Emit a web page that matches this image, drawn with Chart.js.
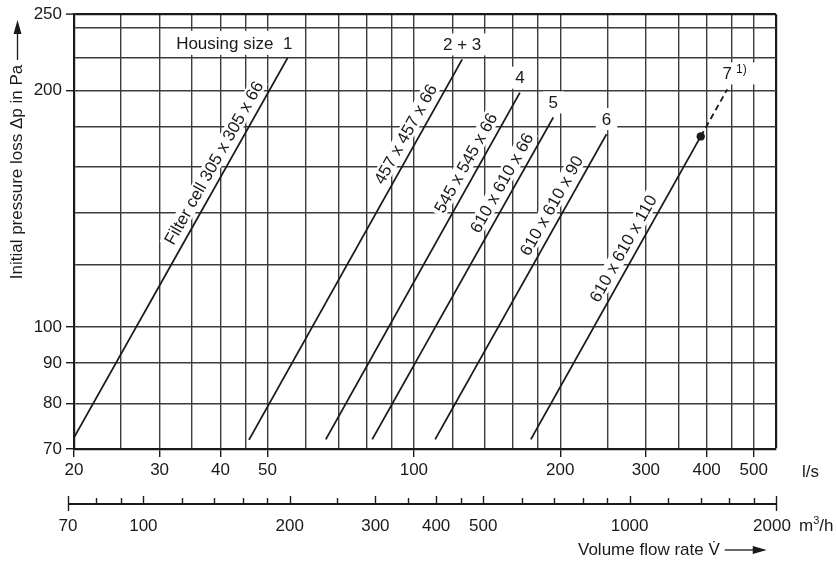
<!DOCTYPE html>
<html><head><meta charset="utf-8">
<script src="https://cdn.jsdelivr.net/npm/chart.js@4/dist/chart.umd.min.js"></script>
<style>html,body{margin:0;padding:0;background:#fff}canvas{display:block}</style>
</head><body>
<canvas id="c" width="836" height="561"></canvas>
<script>
const FONT = "'Liberation Sans', Arial, Helvetica, sans-serif";
const FS = 17;
// Filter cell types (rotated labels along lines)
const seriesLabels = ['Filter cell 305 x 305 x 66', '457 x 457 x 66', '545 x 545 x 66', '610 x 610 x 66', '610 x 610 x 90', '610 x 610 x 110'];
const housingSizes = ['Housing size  1', '2 + 3', '4', '5', '6', '7'];
// line endpoints: volume flow in l/s, pressure loss in Pa
const flowStart = [20, 45.8, 65.9, 82.1, 110.6, 174];
const pressStart = [72.4, 71.9, 72, 72, 72, 72];
const flowEnd = [55, 125.7, 165.2, 193.5, 249, 389];
const pressEnd = [220, 219, 198.7, 184.8, 176, 174.8];
// dashed extension of housing size 7
const extFlow = [389, 441];
const extPress = [174.8, 200.6];
// pressure at which each rotated label is centred
const labelPress = [158.8, 172.8, 158.8, 149.8, 140.1, 123.6];
// axes
const yGrid = [70, 80, 90, 100, 120, 140, 160, 180, 200, 220, 240, 250];
const yLabels = [70, 80, 90, 100, 200, 250];
const xGrid = [20, 25, 30, 35, 40, 45, 50, 60, 70, 80, 90, 100, 120, 140, 160, 180, 200, 250, 300, 350, 400, 450, 500];
const xLabels = [20, 30, 40, 50, 100, 200, 300, 400, 500];
const m3hMajor = [70, 100, 200, 300, 400, 500, 1000, 2000];
const m3hMinor = [80, 90, 120, 140, 160, 180, 250, 350, 450, 600, 700, 800, 900, 1200, 1400, 1600, 1800];
const M3H_PER_LS = 3.6;
const xMax = 2000 / M3H_PER_LS;

const INK = '#1a1a1a';
const GRID = '#3c3c3c';

const datasets = flowStart.map((f, i) => ({
  data: [{x: f, y: pressStart[i]}, {x: flowEnd[i], y: pressEnd[i]}],
  showLine: true, borderColor: INK, borderWidth: 1.8, fill: false,
  pointRadius: i === 5 ? [0, 4.2] : 0, pointHoverRadius: 0,
  pointBackgroundColor: INK, pointBorderWidth: 0
}));
datasets.push({
  data: extFlow.map((f, i) => ({x: f, y: extPress[i]})),
  showLine: true, borderColor: INK, borderWidth: 1.8, borderDash: [6, 4],
  pointRadius: 0, fill: false
});

function isMax(v, m) { return Math.abs(v - m) < 1e-6; }

const annot = {
  id: 'annot',
  beforeDatasetsDraw(chart) {
    const ctx = chart.ctx, xs = chart.scales.x, ys = chart.scales.y;
    ctx.save();
    ctx.font = FS + 'px ' + FONT;
    ctx.textBaseline = 'middle';
    // rotated labels along lines
    seriesLabels.forEach((txt, i) => {
      const x0 = xs.getPixelForValue(flowStart[i]), y0 = ys.getPixelForValue(pressStart[i]);
      const x1 = xs.getPixelForValue(flowEnd[i]), y1 = ys.getPixelForValue(pressEnd[i]);
      const th = Math.atan2(y1 - y0, x1 - x0);
      const k = Math.log(flowEnd[i] / flowStart[i]) / Math.log(pressEnd[i] / pressStart[i]);
      const p = labelPress[i];
      const f = flowStart[i] * Math.pow(p / pressStart[i], k);
      const px = xs.getPixelForValue(f), py = ys.getPixelForValue(p);
      const off = 13;
      const cx = px + off * Math.sin(th), cy = py - off * Math.cos(th);
      ctx.save();
      ctx.translate(cx, cy); ctx.rotate(th);
      ctx.textAlign = 'center';
      const w = ctx.measureText(txt).width;
      ctx.fillStyle = '#fff'; ctx.fillRect(-w / 2 - 3, -8.5, w + 6, 17);
      ctx.fillStyle = INK; ctx.fillText(txt, 0, 1);
      ctx.restore();
    });
    // housing size numbers above line ends
    housingSizes.forEach((txt, i) => {
      let x, y;
      if (i === 5) { x = xs.getPixelForValue(extFlow[1]); y = ys.getPixelForValue(extPress[1]) - 16; }
      else { x = xs.getPixelForValue(flowEnd[i]); y = ys.getPixelForValue(pressEnd[i]) - 15; }
      ctx.font = FS + 'px ' + FONT;
      if (i === 0) {
        const w1 = ctx.measureText('1').width;
        const w = ctx.measureText(txt).width;
        const right = x + w1 / 2;
        ctx.fillStyle = '#fff'; ctx.fillRect(right - w - 8, y - 12, w + 12, 24);
        ctx.fillStyle = INK; ctx.textAlign = 'right'; ctx.fillText(txt, right, y + 1);
      } else if (i === 5) {
        const w = ctx.measureText(txt).width;
        ctx.fillStyle = '#fff'; ctx.fillRect(x - w / 2 - 8, y - 11, w + 32, 22);
        ctx.fillStyle = INK; ctx.textAlign = 'center'; ctx.fillText(txt, x, y + 1);
        ctx.font = '12px ' + FONT; ctx.textAlign = 'left';
        ctx.fillText('1)', x + w / 2 + 4, y - 4);
      } else {
        const w = ctx.measureText(txt).width;
        ctx.fillStyle = '#fff'; ctx.fillRect(x - w / 2 - 6, y - 11, w + 12, 22);
        ctx.fillStyle = INK; ctx.textAlign = 'center'; ctx.fillText(txt, x, y + 1);
      }
    });
    ctx.restore();
  },
  afterDraw(chart) {
    const ctx = chart.ctx, xs = chart.scales.x, area = chart.chartArea;
    ctx.save();
    ctx.strokeStyle = INK; ctx.fillStyle = INK;
    // secondary m3/h axis
    const ay = area.bottom + 55;
    const px = v => xs.getPixelForValue(v / M3H_PER_LS);
    const a0 = px(m3hMajor[0]), a1 = px(m3hMajor[m3hMajor.length - 1]);
    ctx.lineWidth = 2;
    ctx.beginPath(); ctx.moveTo(a0, ay); ctx.lineTo(a1, ay); ctx.stroke();
    ctx.lineWidth = 1.4;
    m3hMajor.forEach((v, i) => {
      const x = Math.round(px(v)) + 0.5;
      const end = (i === 0 || i === m3hMajor.length - 1);
      ctx.beginPath(); ctx.moveTo(x, ay - 8); ctx.lineTo(x, end ? ay + 7 : ay); ctx.stroke();
    });
    m3hMinor.forEach(v => {
      const x = Math.round(px(v)) + 0.5;
      ctx.beginPath(); ctx.moveTo(x, ay - 6); ctx.lineTo(x, ay); ctx.stroke();
    });
    ctx.font = FS + 'px ' + FONT;
    ctx.textAlign = 'center'; ctx.textBaseline = 'middle';
    m3hMajor.forEach((v, i) => {
      const x = px(v) - (i === m3hMajor.length - 1 ? 4 : 0);
      ctx.fillText(String(v), x, ay + 22);
    });
    // unit labels
    ctx.textAlign = 'left';
    ctx.fillText('l/s', area.right + 26, area.bottom + 23);
    let ux = area.right + 23;
    const uy = ay + 22;
    ctx.fillText('m', ux, uy); ux += ctx.measureText('m').width;
    ctx.font = '11px ' + FONT; ctx.fillText('3', ux, uy - 5); ux += ctx.measureText('3').width;
    ctx.font = FS + 'px ' + FONT; ctx.fillText('/h', ux, uy);
    // x title with arrow
    const tx = 578, ty = ay + 46;
    const t = 'Volume flow rate V\u0307';
    ctx.fillText(t, tx, ty);
    const tw = ctx.measureText(t).width;
    const ax0 = tx + tw + 5;
    ctx.lineWidth = 1.3;
    ctx.beginPath(); ctx.moveTo(ax0, ty); ctx.lineTo(ax0 + 30, ty); ctx.stroke();
    ctx.beginPath(); ctx.moveTo(ax0 + 28, ty - 4); ctx.lineTo(ax0 + 42, ty); ctx.lineTo(ax0 + 28, ty + 4); ctx.closePath(); ctx.fill();
    // y title with arrow
    ctx.save();
    ctx.translate(17.5, 172); ctx.rotate(-Math.PI / 2);
    ctx.textAlign = 'center';
    ctx.fillText('Initial pressure loss \u0394p in Pa', 0, 0);
    ctx.restore();
    ctx.beginPath(); ctx.moveTo(17.5, 60); ctx.lineTo(17.5, 32); ctx.stroke();
    ctx.beginPath(); ctx.moveTo(13.5, 34); ctx.lineTo(17.5, 20); ctx.lineTo(21.5, 34); ctx.closePath(); ctx.fill();
    ctx.restore();
  }
};

new Chart(document.getElementById('c'), {
  type: 'scatter',
  data: {datasets},
  options: {
    responsive: false, animation: false, devicePixelRatio: 1,
    layout: {padding: {top: 11, right: 60, left: 0, bottom: 0}},
    plugins: {legend: {display: false}, tooltip: {enabled: false}, title: {display: false}},
    events: [],
    scales: {
      x: {
        type: 'logarithmic', min: 20, max: xMax, position: 'bottom',
        afterBuildTicks: s => { s.ticks = xGrid.concat([xMax]).map(v => ({value: v})); },
        afterFit: s => { s.height = 112; },
        ticks: {autoSkip: false, maxRotation: 0, minRotation: 0, padding: 3, color: INK,
          font: {family: FONT, size: FS},
          callback: v => xLabels.includes(v) ? String(v) : ''},
        grid: {
          color: c => isMax(c.tick.value, xMax) ? INK : GRID,
          lineWidth: c => isMax(c.tick.value, xMax) ? 2.2 : 1.4,
          tickLength: 8,
          tickColor: c => xLabels.includes(c.tick.value) ? INK : 'rgba(0,0,0,0)',
          tickWidth: 1.4
        },
        border: {display: true, color: INK, width: 2.2}
      },
      y: {
        type: 'logarithmic', min: 70, max: 250,
        afterBuildTicks: s => { s.ticks = yGrid.map(v => ({value: v})); },
        afterFit: s => { s.width = 74; },
        ticks: {autoSkip: false, padding: 4, color: INK,
          font: {family: FONT, size: FS},
          callback: v => yLabels.includes(v) ? String(v) : ''},
        grid: {
          color: c => c.tick.value === 250 ? INK : GRID,
          lineWidth: c => c.tick.value === 250 ? 2.2 : 1.4,
          tickLength: 8,
          tickColor: c => yLabels.includes(c.tick.value) ? INK : 'rgba(0,0,0,0)',
          tickWidth: 1.4
        },
        border: {display: true, color: INK, width: 2.2}
      }
    }
  },
  plugins: [annot]
});
</script>
</body></html>
